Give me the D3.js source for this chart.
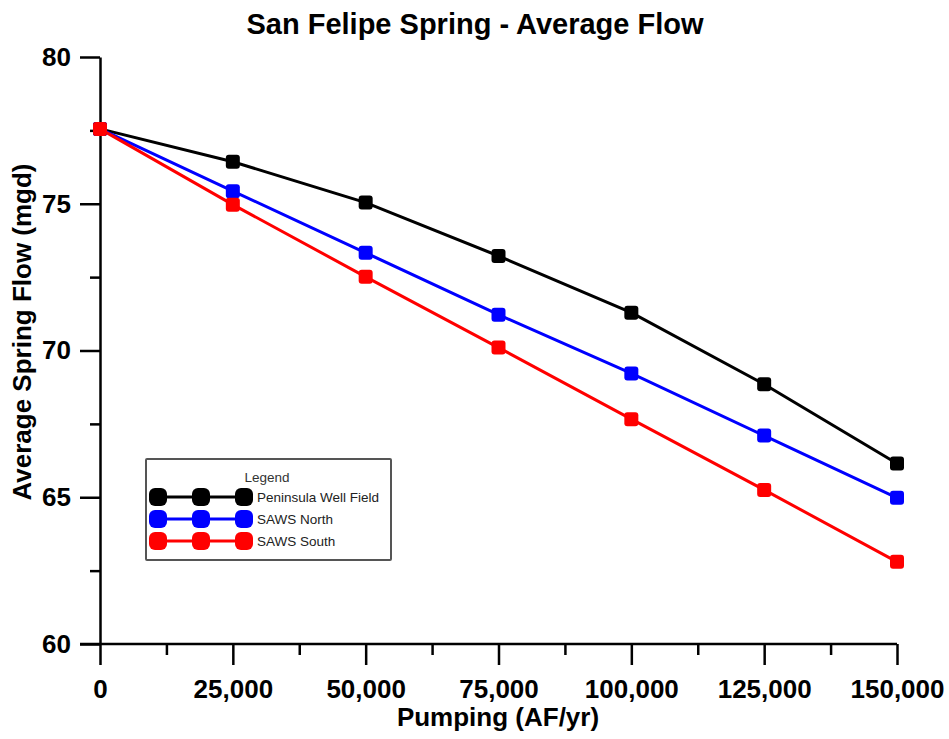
<!DOCTYPE html>
<html>
<head>
<meta charset="utf-8">
<script src="https://cdn.jsdelivr.net/npm/d3@7"></script>
<style>
  body { margin: 0; background: #fff; }
  svg { display: block; font-family: Arial, "Liberation Sans", sans-serif; }
</style>
</head>
<body>
<svg id="chart" width="949" height="739"></svg>
<script>
const pumping = [0, 25000, 50000, 75000, 100000, 125000, 150000];
const peninsulaWellField = [77.55, 76.43, 75.04, 73.22, 71.29, 68.85, 66.15];
const sawsNorth = [77.55, 75.43, 73.33, 71.22, 69.22, 67.10, 64.98];
const sawsSouth = [77.55, 74.97, 72.51, 70.10, 67.66, 65.25, 62.80];
const seriesNames = ["Peninsula Well Field", "SAWS North", "SAWS South"];
const seriesColors = ["#000000", "#0000ff", "#ff0000"];
const xTicks = [0, 25000, 50000, 75000, 100000, 125000, 150000];
const xMinorTicks = [12500, 37500, 62500, 87500, 112500, 137500];
const yTicks = [60, 65, 70, 75, 80];
const yMinorTicks = [62.5, 67.5, 72.5, 77.5];

const series = [peninsulaWellField, sawsNorth, sawsSouth];

const svg = d3.select("#chart");
const x = d3.scaleLinear().domain([0, 150000]).range([100, 897]);
const y = d3.scaleLinear().domain([60, 80]).range([644, 57]);

// Title
svg.append("text").attr("x", 475).attr("y", 34).attr("text-anchor", "middle")
  .attr("font-size", 29).attr("font-weight", "bold").text("San Felipe Spring - Average Flow");

// Axes
const fmt = d3.format(",");
const xAxis = svg.append("g").attr("transform", "translate(0,644)")
  .call(d3.axisBottom(x).tickValues(xTicks).tickFormat(d => fmt(d)).tickSize(21).tickSizeOuter(0));
const xMinor = svg.append("g").attr("transform", "translate(0,644)")
  .call(d3.axisBottom(x).tickValues(xMinorTicks).tickFormat("").tickSize(11).tickSizeOuter(0));
const yAxis = svg.append("g").attr("transform", "translate(100,0)")
  .call(d3.axisLeft(y).tickValues(yTicks).tickSize(20).tickSizeOuter(0));
const yMinor = svg.append("g").attr("transform", "translate(100,0)")
  .call(d3.axisLeft(y).tickValues(yMinorTicks).tickFormat("").tickSize(10).tickSizeOuter(0));

[xAxis, xMinor, yAxis, yMinor].forEach(g => {
  g.selectAll("line").attr("stroke", "#000").attr("stroke-width", 2.5);
  g.select(".domain").attr("stroke", "#000").attr("stroke-width", 2.5);
});
xMinor.select(".domain").remove();
yMinor.select(".domain").remove();
xAxis.select(".domain").attr("d", `M80,0H${x(150000)}`);

xAxis.selectAll("text").attr("font-size", 26).attr("font-weight", "bold").attr("fill", "#000")
  .attr("y", 54).attr("dy", 0);
yAxis.selectAll("text").attr("font-size", 26).attr("font-weight", "bold").attr("fill", "#000")
  .attr("x", -29);

// Axis titles
svg.append("text").attr("x", 498).attr("y", 726).attr("text-anchor", "middle")
  .attr("font-size", 26).attr("font-weight", "bold").text("Pumping (AF/yr)");
svg.append("text").attr("transform", "translate(31,332) rotate(-90)").attr("text-anchor", "middle")
  .attr("font-size", 26).attr("font-weight", "bold").text("Average Spring Flow (mgd)");

// Lines and markers
const line = d3.line().x((d, i) => x(pumping[i])).y(d => y(d));
const ms = 14;
series.forEach((vals, si) => {
  svg.append("path").datum(vals).attr("d", line).attr("fill", "none")
    .attr("stroke", seriesColors[si]).attr("stroke-width", 3);
});
series.forEach((vals, si) => {
  svg.append("g").selectAll("rect").data(vals).join("rect")
    .attr("x", (d, i) => x(pumping[i]) - ms / 2).attr("y", d => y(d) - ms / 2)
    .attr("width", ms).attr("height", ms).attr("rx", 3)
    .attr("fill", seriesColors[si]);
});

// Legend
const lg = svg.append("g");
lg.append("rect").attr("x", 146).attr("y", 459).attr("width", 245).attr("height", 101)
  .attr("fill", "#fff").attr("stroke", "#555").attr("stroke-width", 2).attr("rx", 1);
lg.append("text").attr("x", 267).attr("y", 482).attr("text-anchor", "middle")
  .attr("font-size", 13.5).attr("fill", "#333").text("Legend");
seriesNames.forEach((name, i) => {
  const ry = 497 + i * 22;
  lg.append("line").attr("x1", 158).attr("x2", 244).attr("y1", ry).attr("y2", ry)
    .attr("stroke", seriesColors[i]).attr("stroke-width", 3);
  [158, 201, 244].forEach(cx => {
    lg.append("rect").attr("x", cx - 9).attr("y", ry - 9).attr("width", 18).attr("height", 18)
      .attr("rx", 6).attr("fill", seriesColors[i]);
  });
  lg.append("text").attr("x", 257).attr("y", ry + 5).attr("font-size", 13.5).attr("fill", "#222").text(name);
});
</script>
</body>
</html>
